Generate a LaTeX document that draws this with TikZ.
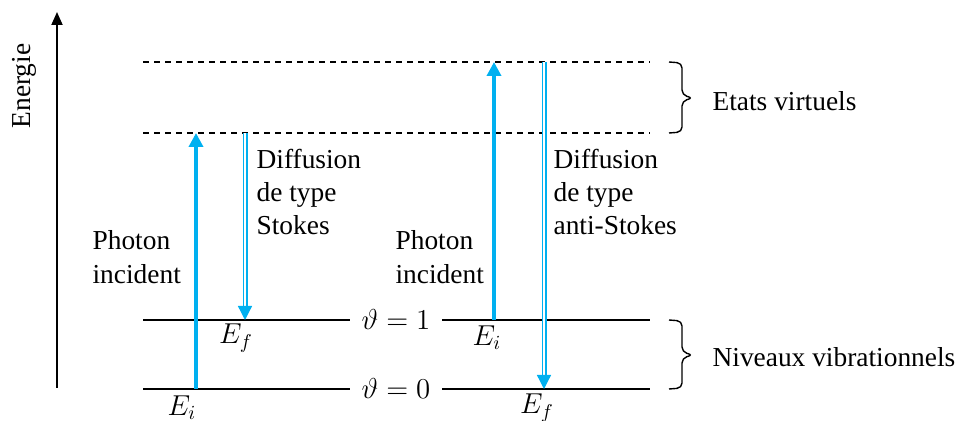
\documentclass[tikz,border=0pt]{standalone}
\usepackage{fontspec}
\setmainfont{Liberation Serif}
\usetikzlibrary{arrows.meta, positioning}
\definecolor{cblue}{HTML}{00B0F0}
\tikzset{
  every picture/.style={font=\fontsize{13.7}{16.7}\selectfont, line width=0.6pt},
  level/.style={draw=black, line width=0.7pt},
  virtual/.style={draw=black, line width=0.6pt, dash pattern=on 3pt off 2.5pt},
  photon/.style={draw=cblue, line width=2pt, -{Triangle[length=7pt, width=7pt]}},
  scatter/.style={draw=cblue, line width=0.65pt, double=white, double distance=1.2pt, -{Triangle[length=7pt, width=7pt]}},
  lbl/.style={align=left, inner sep=0pt, anchor=west},
  axis/.style={-{Triangle[length=6.5pt, width=5.5pt]}, line width=0.9pt},
  curly/.style={draw=black, line width=0.7pt, rounded corners=2.5pt},
}

\begin{document}
\begin{tikzpicture}[x=0.5pt, y=-0.5pt]
  \useasboundingbox (0,0) rectangle (964,421);
  % energy axis
  \coordinate (ax0) at (57,388);
  \coordinate (ax1) at (57,12);
  \draw[axis] (ax0) -- (ax1);
  \node[rotate=90] (energie) at (24,86) {Energie};
  % virtual states
  \coordinate (vl1) at (143,62);  \coordinate (vr1) at (650,62);
  \coordinate (vl2) at (143,133); \coordinate (vr2) at (650,133);
  \draw[virtual] (vl1) -- (vr1);
  \draw[virtual] (vl2) -- (vr2);
  % vibrational levels
  \node (nu1) at (396,320) {$\vartheta = 1$};
  \node (nu0) at (396,389) {$\vartheta = 0$};
  \coordinate (ll1) at (143,320); \coordinate (lm1) at (350,320);
  \coordinate (rm1) at (442,320); \coordinate (rr1) at (650,320);
  \coordinate (ll0) at (143,389); \coordinate (lm0) at (350,389);
  \coordinate (rm0) at (442,389); \coordinate (rr0) at (650,389);
  \draw[level] (ll1) -- (lm1);
  \draw[level] (rm1) -- (rr1);
  \draw[level] (ll0) -- (lm0);
  \draw[level] (rm0) -- (rr0);
  % Stokes
  \coordinate (si) at (196,389); \coordinate (st) at (196,133);
  \coordinate (ss) at (245,133); \coordinate (sf) at (245,320);
  \draw[photon] (si) -- (st);
  \draw[scatter] (ss) -- (sf);
  \node[lbl] (phs) at (92,257) {Photon\\incident};
  \node[lbl] (dfs) at (256,192) {Diffusion\\de type\\Stokes};
  \node (efs) at (236,338) {$E_f$};
  \node (eis) at (182,408) {$E_i$};
  % anti-Stokes
  \coordinate (ai) at (494,320); \coordinate (at) at (494,62);
  \coordinate (as) at (544,62);  \coordinate (af) at (544,389);
  \draw[photon] (ai) -- (at);
  \draw[scatter] (as) -- (af);
  \node[lbl] (pha) at (395,257) {Photon\\incident};
  \node[lbl] (dfa) at (553,192) {Diffusion\\de type\\anti-Stokes};
  \node (eia) at (487,338) {$E_i$};
  \node (efa) at (537,408) {$E_f$};
  % braces
  \draw[curly] (669,62) -- (682,63) -- (682,95) -- (693,98) -- (682,101) -- (682,132) -- (669,133);
  \draw[curly] (669,320) -- (682,321) -- (682,352) -- (693,355) -- (682,358) -- (682,388) -- (669,389);
  \node[lbl] (etats) at (712,101) {Etats virtuels};
  \node[lbl] (niv) at (712,357) {Niveaux vibrationnels};
\end{tikzpicture}
\end{document}
